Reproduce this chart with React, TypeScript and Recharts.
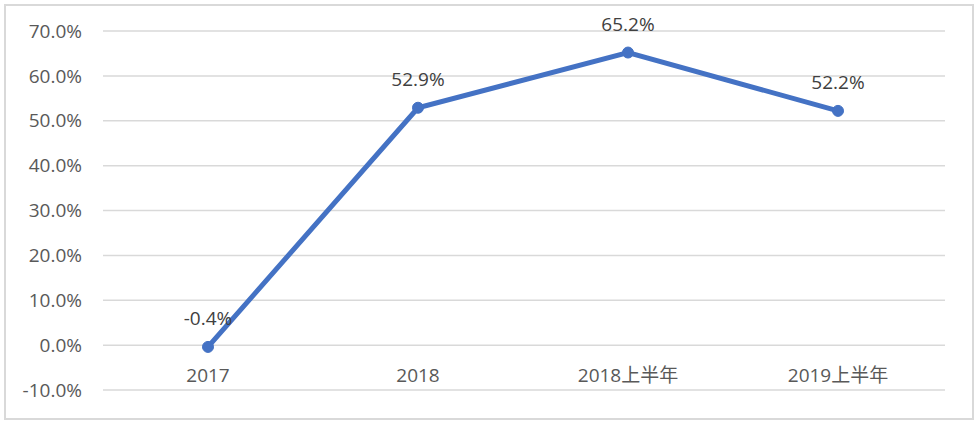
import React from "react";
import { LineChart, Line, XAxis, YAxis, CartesianGrid, LabelList } from "recharts";

const categories = ["2017", "2018", "2018上半年", "2019上半年"];
const growth = [-0.4, 52.9, 65.2, 52.2];
const yTicks = [-10, 0, 10, 20, 30, 40, 50, 60, 70];

const data = categories.map((name, i) => ({ name, value: growth[i] }));

const FONT = "'Open Sans', 'Noto Sans CJK SC', sans-serif";
const TEXT = "#595959";

function CategoryTick({ x, y, payload }: any) {
  // Excel puts category labels just below the 0% line
  return (
    <text x={x} y={y} dy={-15} textAnchor="middle" dominantBaseline="central" fill={TEXT} fontSize={19} fontFamily={FONT}>
      {payload.value}
    </text>
  );
}

function PointLabel({ x, y, value }: any) {
  return (
    <text x={x} y={y - 29} textAnchor="middle" dominantBaseline="central" fill="#404040" fontSize={19} fontFamily={FONT}>
      {`${Number(value).toFixed(1)}%`}
    </text>
  );
}

export default function App() {
  return (
    <div style={{ position: "absolute", left: 0, top: 0, width: 976, height: 426, background: "#fff" }}>
      <div
        style={{
          position: "absolute",
          left: 4,
          top: 4,
          width: 966,
          height: 412,
          border: "2px solid #d9d9d9",
        }}
      />
      <LineChart
        width={976}
        height={426}
        data={data}
        margin={{ top: 31, right: 31, bottom: 0, left: 0 }}
        style={{ position: "absolute", left: 0, top: 0 }}
      >
        <CartesianGrid vertical={false} stroke="#d9d9d9" strokeWidth={1.5} />
        <XAxis
          dataKey="name"
          axisLine={false}
          tickLine={false}
          tickSize={0}
          tickMargin={0}
          height={36}
          padding={{ left: 105, right: 107 }}
          tick={<CategoryTick />}
          interval={0}
        />
        <YAxis
          domain={[-10, 70]}
          ticks={yTicks}
          width={103}
          axisLine={false}
          tickLine={false}
          tickSize={0}
          tickMargin={21}
          interval={0}
          tickFormatter={(v: number) => `${v.toFixed(1)}%`}
          tick={{ fill: TEXT, fontSize: 19, fontFamily: FONT }}
        />
        <Line
          type="linear"
          dataKey="value"
          stroke="#4472C4"
          strokeWidth={5}
          dot={{ r: 5.5, fill: "#4472C4", stroke: "#4472C4", strokeWidth: 1 }}
          isAnimationActive={false}
        >
          <LabelList dataKey="value" content={<PointLabel />} />
        </Line>
      </LineChart>
    </div>
  );
}
